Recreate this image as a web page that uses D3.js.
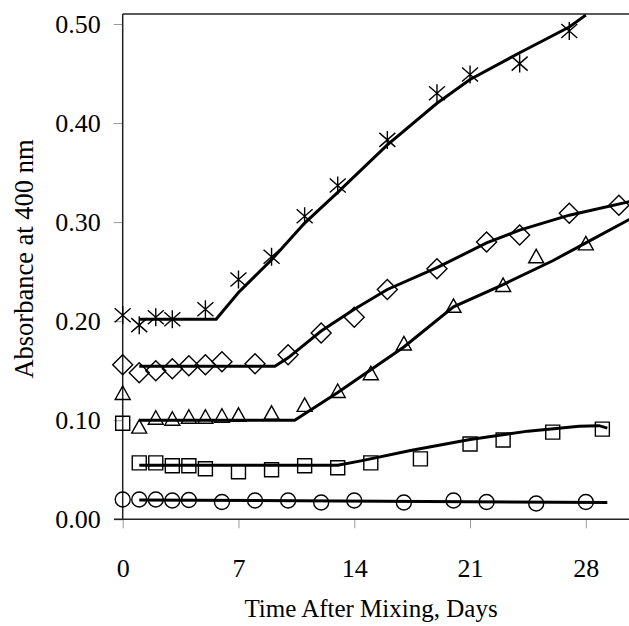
<!DOCTYPE html>
<html>
<head>
<meta charset="utf-8">
<script src="https://cdn.jsdelivr.net/npm/d3@7"></script>
<style>
  body { margin: 0; background: #fff; }
  text { font-family: "Liberation Serif", "Times New Roman", serif; fill: #000; }
</style>
</head>
<body>
<div id="chart"></div>
<script>
// measured points (day, absorbance)
var starDays = [0, 1, 2, 3, 5, 7, 9, 11, 13, 16, 19, 21, 24, 27];
var starVals = [0.206, 0.196, 0.204, 0.202, 0.212, 0.242, 0.265, 0.306, 0.337, 0.383, 0.430, 0.449, 0.460, 0.493];
var diamondDays = [0, 1, 2, 3, 4, 5, 6, 8, 10, 12, 14, 16, 19, 22, 24, 27, 30];
var diamondVals = [0.156, 0.148, 0.150, 0.152, 0.155, 0.156, 0.159, 0.157, 0.166, 0.188, 0.204, 0.232, 0.253, 0.280, 0.287, 0.309, 0.317];
var triDays = [0, 1, 2, 3, 4, 5, 6, 7, 9, 11, 13, 15, 17, 20, 23, 25, 28];
var triVals = [0.127, 0.093, 0.102, 0.101, 0.103, 0.103, 0.104, 0.105, 0.107, 0.115, 0.129, 0.147, 0.177, 0.215, 0.236, 0.265, 0.278];
var squareDays = [0, 1, 2, 3, 4, 5, 7, 9, 11, 13, 15, 18, 21, 23, 26, 29];
var squareVals = [0.097, 0.057, 0.057, 0.054, 0.054, 0.051, 0.048, 0.050, 0.054, 0.052, 0.057, 0.061, 0.076, 0.080, 0.088, 0.091];
var circleDays = [0, 1, 2, 3, 4, 6, 8, 10, 12, 14, 17, 20, 22, 25, 28];
var circleVals = [0.020, 0.020, 0.020, 0.019, 0.0195, 0.0175, 0.019, 0.019, 0.017, 0.019, 0.017, 0.019, 0.0175, 0.016, 0.0175];

// fitted curves (day, absorbance)
var starFitDays = [1, 5.65, 7, 9, 11, 13, 16, 19, 21, 24, 27, 28];
var starFitVals = [0.202, 0.202, 0.229, 0.262, 0.299, 0.330, 0.378, 0.420, 0.444, 0.471, 0.497, 0.509];
var diamondFitDays = [1, 9.2, 10, 12, 14, 16, 19, 22, 24, 27, 31];
var diamondFitVals = [0.1545, 0.1545, 0.163, 0.190, 0.212, 0.232, 0.254, 0.279, 0.292, 0.307, 0.322];
var triFitDays = [1, 10.4, 13, 15, 17, 20, 23, 26, 28, 31];
var triFitVals = [0.100, 0.100, 0.128, 0.151, 0.174, 0.2145, 0.237, 0.261, 0.279, 0.306];
var squareFitDays = [1, 13, 14.4, 17.4, 21, 24.5, 27.6, 28.8, 29.3];
var squareFitVals = [0.0545, 0.0545, 0.059, 0.0695, 0.0805, 0.089, 0.094, 0.0945, 0.092];
var circleFitDays = [1, 29.3];
var circleFitVals = [0.0195, 0.017];

var xTicks = [0, 7, 14, 21, 28];
var yTicks = [0, 0.1, 0.2, 0.3, 0.4, 0.5];

function pairs(xs, ys) {
  return xs.map(function(d, i) { return [d, ys[i]]; });
}

var width = 629, height = 626;
var left = 122.7, bottom = 519.3;

var x = d3.scaleLinear().domain([0, 31]).range([left, left + 31 * 16.54]);
var y = d3.scaleLinear().domain([0, 0.51]).range([bottom, bottom - 0.51 * 990.6]);

var svg = d3.select('#chart').append('svg')
  .attr('width', width)
  .attr('height', height);

svg.append('defs').append('clipPath').attr('id', 'plotclip')
  .append('rect')
  .attr('x', left).attr('y', y(0.51))
  .attr('width', width - left).attr('height', bottom - y(0.51));

// axes
var yAxis = d3.axisLeft(y).tickValues(yTicks).tickSize(9).tickPadding(13).tickFormat(d3.format('.2f'));
var gy = svg.append('g').attr('transform', 'translate(' + left + ',0)').call(yAxis);
gy.select('.domain').remove();
gy.selectAll('.tick line').attr('stroke', '#999');
gy.selectAll('.tick text').attr('font-size', '26px').attr('font-family', '"Liberation Serif", serif');

var xAxis = d3.axisBottom(x).tickValues(xTicks).tickSize(9).tickPadding(30).tickFormat(d3.format('d'));
var gx = svg.append('g').attr('transform', 'translate(0,' + bottom + ')').call(xAxis);
gx.select('.domain').remove();
gx.selectAll('.tick line').attr('stroke', '#999');
gx.selectAll('.tick text').attr('font-size', '26px').attr('font-family', '"Liberation Serif", serif');

// frame lines
svg.append('line').attr('x1', left).attr('x2', left).attr('y1', y(0.51)).attr('y2', bottom)
  .attr('stroke', '#222').attr('stroke-width', 1.5);
svg.append('line').attr('x1', left).attr('x2', width).attr('y1', y(0.51)).attr('y2', y(0.51))
  .attr('stroke', '#222').attr('stroke-width', 1.5);
svg.append('line').attr('x1', 114).attr('x2', width).attr('y1', bottom).attr('y2', bottom)
  .attr('stroke', '#222').attr('stroke-width', 1.5);

// titles
svg.append('text')
  .attr('x', 371).attr('y', 617)
  .attr('text-anchor', 'middle')
  .attr('font-size', '25px')
  .text('Time After Mixing, Days');
svg.append('text')
  .attr('transform', 'translate(33,259) rotate(-90)')
  .attr('text-anchor', 'middle')
  .attr('font-size', '26.5px')
  .text('Absorbance at 400 nm');

var plot = svg.append('g').attr('clip-path', 'url(#plotclip)');

var line = d3.line().x(function(d) { return x(d[0]); }).y(function(d) { return y(d[1]); });

var fits = [
  pairs(starFitDays, starFitVals),
  pairs(diamondFitDays, diamondFitVals),
  pairs(triFitDays, triFitVals),
  pairs(squareFitDays, squareFitVals),
  pairs(circleFitDays, circleFitVals)
];
plot.selectAll('path.fit')
  .data(fits)
  .enter().append('path')
  .attr('class', 'fit')
  .attr('d', line)
  .attr('fill', 'none')
  .attr('stroke', '#000')
  .attr('stroke-width', 3);

// markers
var shapes = {
  star: 'M-8,-7L8,7M-8,7L8,-7M0,-9L0,9',
  diamond: 'M0,-10L10,0L0,10L-10,0Z',
  triangle: 'M0,-7.5L7.5,6L-7.5,6Z',
  square: 'M-7,-7H7V7H-7Z',
  circle: 'M7.5,0A7.5,7.5 0 1,1 -7.5,0A7.5,7.5 0 1,1 7.5,0Z'
};
var series = [
  { shape: 'star', pts: pairs(starDays, starVals) },
  { shape: 'diamond', pts: pairs(diamondDays, diamondVals) },
  { shape: 'triangle', pts: pairs(triDays, triVals) },
  { shape: 'square', pts: pairs(squareDays, squareVals) },
  { shape: 'circle', pts: pairs(circleDays, circleVals) }
];
series.forEach(function(s) {
  svg.append('g').selectAll('path')
    .data(s.pts)
    .enter().append('path')
    .attr('transform', function(d) { return 'translate(' + x(d[0]) + ',' + y(d[1]) + ')'; })
    .attr('d', shapes[s.shape])
    .attr('fill', 'none')
    .attr('stroke', '#000')
    .attr('stroke-width', 1.4);
});
</script>
</body>
</html>
